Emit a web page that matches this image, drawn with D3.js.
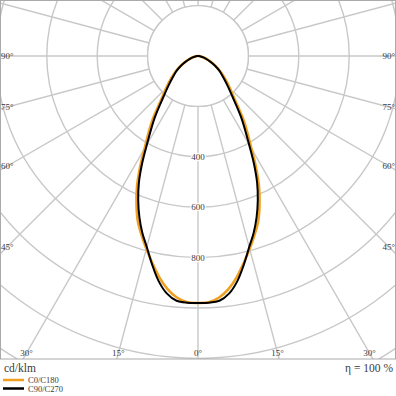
<!DOCTYPE html>
<html><head><meta charset="utf-8">
<script src="https://cdn.jsdelivr.net/npm/d3@7"></script>
<style>body{margin:0;background:#fff}svg{display:block}</style>
</head><body><svg id="c" width="396" height="396"></svg>
<script>
// ---- data ----
const gammaAngles = [0,2.5,5,7.5,10,12.5,15,17.5,20,22.5,25,27.5,30,35,40,45,50,55,60,65,70,75,80,85,90];
const c0c180  = [980,978,962,932,890,840,792,745,698,638,573,498,424,320,228,178,140,109,81,57,37,23,12,4,0];
const c90c270 = [980,980,975,950,905,845,785,735,680,620,555,480,405,300,215,165,130,105,78,55,36,22,11,4,0];
const seriesNames = ["C0/C180","C90/C270"];
const seriesColors = ["#f0a020","#000000"];
const circleValues = [200,400,600,800,1000,1200,1400,1600];
const circleLabels = [400,600,800];
const radialAngles = d3.range(0,360,15);
const sideAngles = [90,75,60,45];
const bottomAngles = [30,15,0];
const unitLabel = "cd/klm";
const effLabel = "η = 100 %";

// ---- layout ----
const W = 396, plotH = 359, cx = 198, cy = 56;
const r = d3.scaleLinear().domain([0,1000]).range([0,252]);
const svg = d3.select("#c");
const font = "'Liberation Serif','Times New Roman',serif";
const txtCol = "#3a3a3a";
const gridCol = "#c8c8c8";

svg.append("defs").append("clipPath").attr("id","clip")
  .append("rect").attr("x",0).attr("y",0).attr("width",W).attr("height",plotH);
const g = svg.append("g").attr("clip-path","url(#clip)");

// circles
g.selectAll("circle.grid").data(circleValues).join("circle")
  .attr("cx",cx).attr("cy",cy).attr("r",d=>r(d))
  .attr("fill","none").attr("stroke",gridCol).attr("stroke-width",1.4);
// radial lines
const rad = a => a*Math.PI/180;
g.selectAll("line.rad").data(radialAngles).join("line")
  .attr("x1",a=>cx+r(circleValues[0])*Math.sin(rad(a)))
  .attr("y1",a=>cy+r(circleValues[0])*Math.cos(rad(a)))
  .attr("x2",a=>cx+r(2000)*Math.sin(rad(a)))
  .attr("y2",a=>cy+r(2000)*Math.cos(rad(a)))
  .attr("stroke",gridCol).attr("stroke-width",1.4);
// inner disc
g.append("circle").attr("cx",cx).attr("cy",cy).attr("r",r(circleValues[0]))
  .attr("fill","#fff").attr("stroke",gridCol).attr("stroke-width",1.4);

// circle value labels
g.selectAll("text.cl").data(circleLabels).join("text")
  .attr("x",cx).attr("y",d=>cy+r(d)).attr("dy","0.35em")
  .attr("text-anchor","middle").attr("font-family",font).attr("font-size",9)
  .attr("fill",txtCol).attr("stroke","#fff").attr("stroke-width",2.5)
  .attr("paint-order","stroke").text(d=>d);

// curves
const line = d3.lineRadial().curve(d3.curveCatmullRom.alpha(0.5))
  .angle(d=>d[0]).radius(d=>r(d[1]));
[c0c180, c90c270].forEach((vals,i)=>{
  const pts = [];
  for (let k=gammaAngles.length-1;k>=0;k--) pts.push([Math.PI+rad(gammaAngles[k]), vals[k]]);
  for (let k=1;k<gammaAngles.length;k++) pts.push([Math.PI-rad(gammaAngles[k]), vals[k]]);
  g.append("path").attr("transform",`translate(${cx},${cy})`)
    .attr("d",line(pts)).attr("fill","none")
    .attr("stroke",seriesColors[i]).attr("stroke-width",i===0?2.6:2)
    .attr("stroke-linejoin","round");
});

// border
svg.append("rect").attr("x",0.5).attr("y",0.5).attr("width",W-1).attr("height",plotH-0.5)
  .attr("fill","none").attr("stroke","#aaa").attr("stroke-width",1);

// side angle labels
sideAngles.forEach(a=>{
  const yy = cy + (cx-7)*Math.cos(rad(a))/Math.sin(rad(a));
  svg.append("text").attr("x",1).attr("y",yy).attr("dy","0.35em")
    .attr("font-family",font).attr("font-size",9).attr("fill",txtCol).text(a+"°");
  svg.append("text").attr("x",W-1).attr("y",yy).attr("dy","0.35em").attr("text-anchor","end")
    .attr("font-family",font).attr("font-size",9).attr("fill",txtCol).text(a+"°");
});
// bottom angle labels
bottomAngles.forEach(a=>{
  const yc = 353;
  const dx = (yc-cy)*Math.tan(rad(a));
  const xs = a===0 ? [cx] : [cx-dx, cx+dx];
  xs.forEach(x=>svg.append("text").attr("x",x).attr("y",yc).attr("dy","0.35em")
    .attr("text-anchor","middle").attr("font-family",font).attr("font-size",9)
    .attr("fill",txtCol).text(a+"°"));
});

// footer
svg.append("text").attr("x",4).attr("y",372).attr("font-family",font).attr("font-size",11.5)
  .attr("fill",txtCol).text(unitLabel);
svg.append("text").attr("x",393).attr("y",372).attr("text-anchor","end").attr("font-family",font)
  .attr("font-size",11.5).attr("fill",txtCol).text(effLabel);
seriesNames.forEach((n,i)=>{
  const y = 380 + i*8.5;
  svg.append("line").attr("x1",3).attr("x2",24).attr("y1",y).attr("y2",y)
    .attr("stroke",seriesColors[i]).attr("stroke-width",2.5);
  svg.append("text").attr("x",28).attr("y",y+3).attr("font-family",font).attr("font-size",8.5)
    .attr("fill",txtCol).text(n);
});
</script></body></html>
